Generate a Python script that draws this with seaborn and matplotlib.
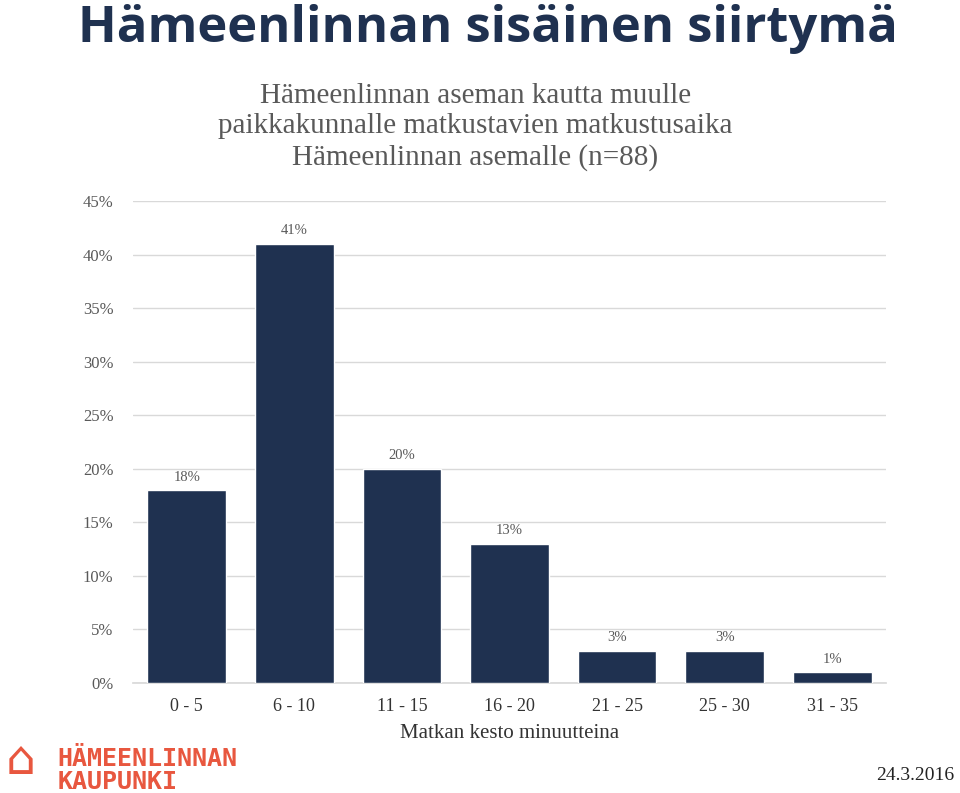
import pandas as pd
import numpy as np
import matplotlib.pyplot as plt
import seaborn as sns

categories = ["0 - 5", "6 - 10", "11 - 15", "16 - 20", "21 - 25", "25 - 30", "31 - 35"]
shares = [18, 41, 20, 13, 3, 3, 1]
y_ticks = [0, 5, 10, 15, 20, 25, 30, 35, 40, 45]

df = pd.DataFrame({"kesto": categories, "osuus": shares})

sns.set_theme(style="white")
plt.rcParams["font.family"] = ["Liberation Serif", "DejaVu Serif"]

navy = "#1F3150"
gray = "#595959"
orange = "#E8573F"

fig = plt.figure(figsize=(9.6, 7.93), dpi=100)
ax = fig.add_axes([0.1385, 0.1387, 0.7845, 0.6078])

sns.barplot(data=df, x="kesto", y="osuus", color=navy, width=0.73,
            saturation=1, ax=ax, zorder=3)

ax.set_ylim(0, 45)
ax.set_yticks(y_ticks)
ax.set_yticklabels([f"{t}%" for t in y_ticks], color=gray, fontsize=12)
ax.grid(axis="y", color="#D9D9D9", linewidth=1, zorder=0)
for s in ["top", "right", "left"]:
    ax.spines[s].set_visible(False)
ax.spines["bottom"].set_color("#D9D9D9")
ax.tick_params(axis="y", length=0, pad=14)
ax.tick_params(axis="x", length=0, pad=11, labelsize=13, labelcolor="#333333")

for i, v in enumerate(shares):
    ax.text(i, v + 0.6, f"{v}%", ha="center", va="bottom", fontsize=10.5, color=gray)

ax.set_xlabel("Matkan kesto minuutteina", fontsize=15, color="#333333", labelpad=6)
ax.set_ylabel("")

fig.text(0.081, 0.963, "Hämeenlinnan sisäinen siirtymä", fontsize=36.5, fontweight="bold",
         color=navy, ha="left", va="center", family=["Open Sans", "DejaVu Sans"])

fig.text(0.495, 0.84,
         "Hämeenlinnan aseman kautta muulle\npaikkakunnalle matkustavien matkustusaika\nHämeenlinnan asemalle (n=88)",
         fontsize=21, color=gray, ha="center", va="center", linespacing=1.22)

# logo
fig.text(0.006, 0.04, "⌂", fontsize=34, color=orange, ha="left", va="center",
         family=["DejaVu Sans"])
fig.text(0.06, 0.028, "HÄMEENLINNAN\nKAUPUNKI", fontsize=18, fontweight="bold",
         color=orange, ha="left", va="center", linespacing=0.95,
         family=["DejaVu Sans Mono", "DejaVu Sans"])

fig.text(0.994, 0.022, "24.3.2016", fontsize=14, color="#222222", ha="right", va="center")

plt.savefig("out.png", dpi=100)
